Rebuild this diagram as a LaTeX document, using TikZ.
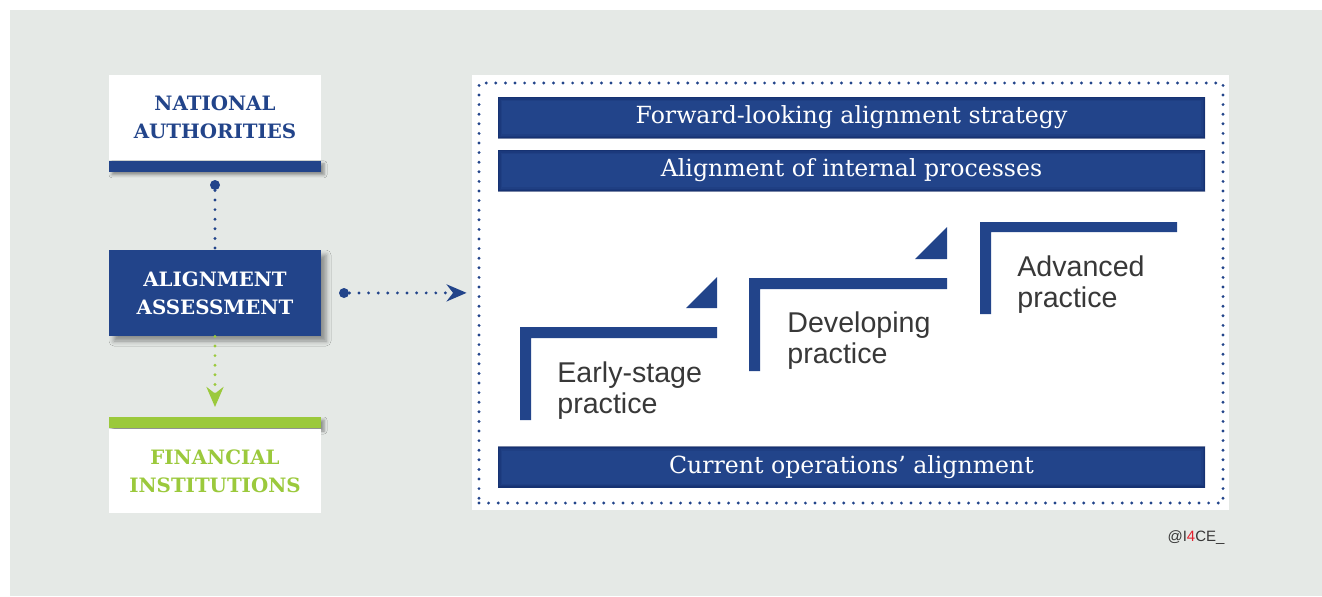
\documentclass[tikz,border=0pt]{standalone}
\usepackage{fontspec}
\setmainfont{DejaVu Serif}
\newfontfamily\stepfont{Liberation Sans}
\usetikzlibrary{positioning,arrows.meta,shadows.blur}
\definecolor{ablue}{HTML}{22448A}
\definecolor{adark}{HTML}{0E2560}
\definecolor{agreen}{HTML}{9BC93C}
\definecolor{bggrey}{HTML}{E5E9E6}
\definecolor{txtgrey}{HTML}{383838}
\definecolor{ared}{HTML}{E5202E}
\begin{document}
\begin{tikzpicture}[
    x=0.5pt, y=-0.5pt,
    >={Stealth[length=10pt,width=8.5pt]},
    card/.style={fill=white, minimum width=106pt, inner sep=0pt, align=center,
                 font=\bfseries\fontsize{9.9}{14}\selectfont},
    bar/.style={minimum width=106pt, minimum height=5.5pt, inner sep=0pt,
                blur shadow={shadow xshift=1.5pt, shadow yshift=-1.5pt, shadow blur radius=1.5pt}},
    dotnode/.style={circle, fill=ablue, minimum size=5pt, inner sep=0pt},
    bdots/.style={draw=ablue, line width=1.6pt, line cap=round, dash pattern=on 0pt off 4.8pt},
    gdots/.style={bdots, draw=agreen},
    banner/.style={fill=ablue, minimum width=353.5pt, minimum height=20.5pt, inner sep=0pt,
                   text=white, font=\fontsize{11.8}{13}\selectfont,
                   path picture={\foreach \w/\o in {4/0.15,2.5/0.2,1.2/0.35}
                       \draw[adark, line width=\w pt, opacity=\o]
                       (path picture bounding box.south west) rectangle (path picture bounding box.north east);}},
    steptext/.style={anchor=base west, inner sep=0pt, text=txtgrey,
                     font=\stepfont\fontsize{14.3}{16}\selectfont}
]
\useasboundingbox (0,0) rectangle (1322,596);
\fill[white] (0,0) rectangle (1322,596);
\fill[bggrey] (10,10) rectangle (1322,596);

\node[card, text=ablue, minimum height=42.5pt] (na) at (215,117.5) {NATIONAL\\AUTHORITIES};
\node[bar, fill=ablue, below=0pt of na] (nabar) {};
\node[dotnode] (nadot) at (215,185) {};

\node[card, fill=ablue, text=white, minimum height=43pt,
      blur shadow={shadow xshift=2.5pt, shadow yshift=-2.5pt, shadow blur radius=2.5pt}] (aa) at (215,293) {ALIGNMENT\\ASSESSMENT};
\draw[bdots] (nadot) -- (aa);

\node[bar, fill=agreen] (fibar) at (215,422.5) {};
\node[card, text=agreen, minimum height=42pt, below=0pt of fibar] (fi) {FINANCIAL\\INSTITUTIONS};
\coordinate (gtip) at (215,407);
\draw[gdots, ->] (aa) -- (gtip);

\node[fill=white, minimum width=378.5pt, minimum height=217.5pt] (panel) at (850.5,292.5) {};
\node[bdots, minimum width=372pt, minimum height=210pt] (frame) at (851,293) {};
\node[dotnode] (adot) at (344,293) {};
\draw[bdots, ->, shorten >=2.5pt] (adot) -- (panel);

\node[banner] (fwd) at (851.5,117.5) {Forward-looking alignment strategy};
\node[banner] (intp) at (851.5,170.5) {Alignment of internal processes};
\node[banner] (cur) at (851.5,467) {Current operations’ alignment};

\fill[ablue] (520,327) rectangle (531,420) (520,327) rectangle (717,338);
\fill[ablue] (717,277) -- (717,308) -- (686,308) -- cycle;
\fill[ablue] (749,278) rectangle (760,371) (749,278) rectangle (947,289);
\fill[ablue] (947,227) -- (947,259) -- (915,259) -- cycle;
\fill[ablue] (980,222) rectangle (991,314) (980,222) rectangle (1177,232);

\node[steptext] (es1) at (557,382) {Early-stage};
\node[steptext] (es2) at (557,413) {practice};
\node[steptext] (dp1) at (787,332) {Developing};
\node[steptext] (dp2) at (787,363) {practice};
\node[steptext] (ap1) at (1017,276) {Advanced};
\node[steptext] (ap2) at (1017,307) {practice};

\node[font=\stepfont\fontsize{7.5}{9}\selectfont, text=txtgrey] (tag) at (1196,538)
    {@I\textcolor{ared}{4}CE\_};
\end{tikzpicture}
\end{document}
